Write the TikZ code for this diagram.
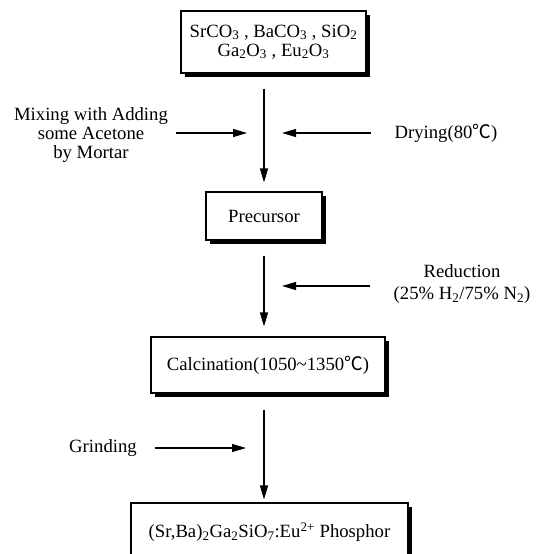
\documentclass[tikz,border=0pt]{standalone}
\usepackage{fontspec}
\setmainfont{Liberation Serif}
\newfontfamily\cjk{Noto Sans CJK SC}
\usetikzlibrary{arrows.meta}
\usetikzlibrary{shadows}
\newcommand{\degC}{{\cjk ℃}}

\begin{document}
\begin{tikzpicture}[x=1pt,y=-1pt,->,>={Triangle[length=14pt,width=8pt]},line width=1.1pt,
  font=\fontsize{18.7}{19}\selectfont,
  proc node/.style={draw,fill=white,->,-,align=center,
    drop shadow={shadow xshift=4pt,shadow yshift=-4pt,opacity=1,fill=black}},
  side node/.style={align=center}]

\useasboundingbox[fill=white] (0,0) rectangle (539,554);

  % process boxes
  \node[proc node,minimum width=185pt,minimum height=62pt] (raw) at (273.5,42)
    {SrCO\textsubscript{3} , BaCO\textsubscript{3} , SiO\textsubscript{2}\\
     Ga\textsubscript{2}O\textsubscript{3} , Eu\textsubscript{2}O\textsubscript{3}};
  \node[proc node,minimum width=116pt,minimum height=48pt] (pre) at (264,216) {Precursor};
  \node[proc node,minimum width=234pt,minimum height=56pt] (calc) at (268,365)
    {Calcination(1050\textasciitilde1350\degC)};
  \node[proc node,minimum width=277pt,minimum height=58pt] (phos) at (269.5,532)
    {(Sr,Ba)\textsubscript{2}Ga\textsubscript{2}SiO\textsubscript{7}:Eu\textsuperscript{2+} Phosphor};

  % side conditions
  \node[side node] (mix) at (91,135) {Mixing with Adding\\some Acetone\\by Mortar};
  \node (dry) at (446,133) {Drying(80\degC)};
  \node[side node] (red) at (462,284) {Reduction\\[3pt](25\% H\textsubscript{2}/75\% N\textsubscript{2})};
  \node (grind) at (103,448) {Grinding};

  \coordinate (in1) at (247,133);
  \coordinate (in2) at (282,133);
  \coordinate (in3) at (282,286);
  \coordinate (in4) at (246,448);

  \path
(raw.south -| pre.north) edge [shorten <=15pt,shorten >=9pt] (pre.north)
(pre.south) edge [shorten <=15pt,shorten >=10pt] (calc.north -| pre.south)
(calc.south -| pre.south) edge [shorten <=16pt,shorten >=3pt] (phos.north -| pre.south)
([xshift=4pt]mix.east |- in1) edge (in1)
([xshift=-20pt]dry.west |- in2) edge (in2)
([xshift=-20pt]red.west |- in3) edge (in3)
([xshift=14pt]grind.east |- in4) edge (in4)
;
\end{tikzpicture}
\end{document}
